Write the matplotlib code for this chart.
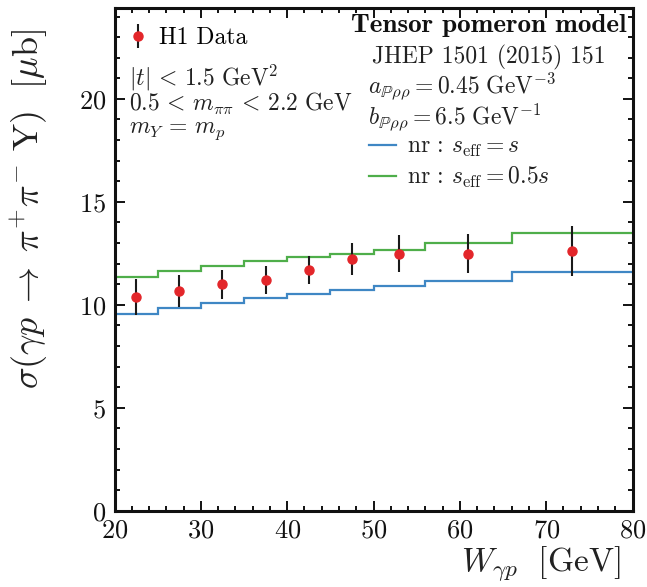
import matplotlib
matplotlib.use("Agg")
import matplotlib.pyplot as plt
from matplotlib.lines import Line2D
from matplotlib.ticker import MultipleLocator

plt.rcParams["font.family"] = "cmr10"
plt.rcParams["mathtext.fontset"] = "cm"
plt.rcParams["axes.unicode_minus"] = False
plt.rcParams["axes.formatter.use_mathtext"] = True

# H1 measurement: bin centres, cross sections and total uncertainties
w_centres = [22.5, 27.5, 32.5, 37.5, 42.5, 47.5, 53.0, 61.0, 73.0]
sigma_h1 = [10.37, 10.68, 11.00, 11.20, 11.69, 12.22, 12.48, 12.48, 12.63]
sigma_err = [0.89, 0.79, 0.70, 0.69, 0.69, 0.79, 0.90, 0.95, 1.22]

# Tensor pomeron model predictions, binned like the data
w_edges = [20, 25, 30, 35, 40, 45, 50, 56, 66, 80]
model_seff_s = [9.53, 9.82, 10.08, 10.33, 10.53, 10.73, 10.89, 11.16, 11.57]
model_seff_half_s = [11.33, 11.64, 11.90, 12.12, 12.32, 12.49, 12.67, 13.00, 13.47]

blue = "#3f87c4"
green = "#4fae4a"
red = "#e3262a"
ink = "#222222"

fig = plt.figure(figsize=(6.47, 5.87), dpi=100)
ax = fig.add_axes([0.177, 0.130, 0.8006, 0.8559])

ax.stairs(model_seff_s, w_edges, color=blue, lw=1.6, baseline=None)
ax.stairs(model_seff_half_s, w_edges, color=green, lw=1.6, baseline=None)
data = ax.errorbar(w_centres, sigma_h1, yerr=sigma_err, fmt="o", color=red,
                   ms=6.5, ecolor="#1a1a1a", elinewidth=1.5, capsize=0,
                   zorder=5)

ax.set_xlim(20, 80)
ax.set_ylim(0, 24.4)
ax.xaxis.set_major_locator(MultipleLocator(10))
ax.xaxis.set_minor_locator(MultipleLocator(2))
ax.yaxis.set_major_locator(MultipleLocator(5))
ax.yaxis.set_minor_locator(MultipleLocator(1))
ax.tick_params(which="both", direction="in", top=True, right=True,
               labelsize=19, width=1.4, colors="#111111", pad=6)
ax.tick_params(which="major", length=7)
ax.tick_params(which="minor", length=3.5)
for s in ax.spines.values():
    s.set_linewidth(2.2)
    s.set_color("#111111")

ax.set_ylabel(r"$\sigma(\gamma p \;\rightarrow\; \pi^{+}\pi^{-}\ \mathrm{Y})\ \ [\mu\mathrm{b}]$",
              fontsize=26, color=ink)
ax.yaxis.set_label_coords(-0.125, 0.6)
ax.set_xlabel(r"$W_{\gamma p}\ \ [\mathrm{GeV}]$", fontsize=24, color=ink,
              ha="right", va="top")
ax.xaxis.set_label_coords(0.976, -0.068)

# data legend
leg1 = ax.legend([data], ["H1 Data"], loc="upper left", frameon=False,
                 fontsize=17, handlelength=0.8, handletextpad=0.5,
                 bbox_to_anchor=(-0.005, 0.995), borderaxespad=0.3)
ax.add_artist(leg1)

# selection cuts
tk = dict(transform=ax.transAxes, fontsize=17, color=ink, va="baseline")
ax.text(0.027, 0.846, r"$|t| \,<\, 1.5\ \mathrm{GeV}^{2}$", **tk)
ax.text(0.027, 0.797, r"$0.5 \,<\, m_{\pi\pi} \,<\, 2.2\ \mathrm{GeV}$", **tk)
ax.text(0.027, 0.752, r"$m_{Y} \,=\, m_{p}$", **tk)

# model description
ax.text(0.989, 0.952, "Tensor pomeron model", transform=ax.transAxes,
        fontsize=19.5, family="cmb10", ha="right", va="baseline", color="#111111")
ax.text(0.4965, 0.8905, "JHEP 1501 (2015) 151", **tk)
ax.text(0.489, 0.831, r"$a_{\mathbb{P}\rho\rho} = 0.45\ \mathrm{GeV}^{-3}$", **tk)
ax.text(0.489, 0.770, r"$b_{\mathbb{P}\rho\rho} = 6.5\ \mathrm{GeV}^{-1}$", **tk)

handles = [Line2D([], [], color=blue, lw=1.6), Line2D([], [], color=green, lw=1.6)]
labels = [r"$\mathrm{nr}\,:\, s_{\mathrm{eff}} = s$",
          r"$\mathrm{nr}\,:\, s_{\mathrm{eff}} = 0.5s$"]
ax.legend(handles, labels, loc="upper left", frameon=False, fontsize=17,
          handlelength=1.15, handletextpad=0.45, labelspacing=0.25,
          bbox_to_anchor=(0.473, 0.765), borderaxespad=0.0, labelcolor=ink)

fig.savefig("out.png", dpi=100)
